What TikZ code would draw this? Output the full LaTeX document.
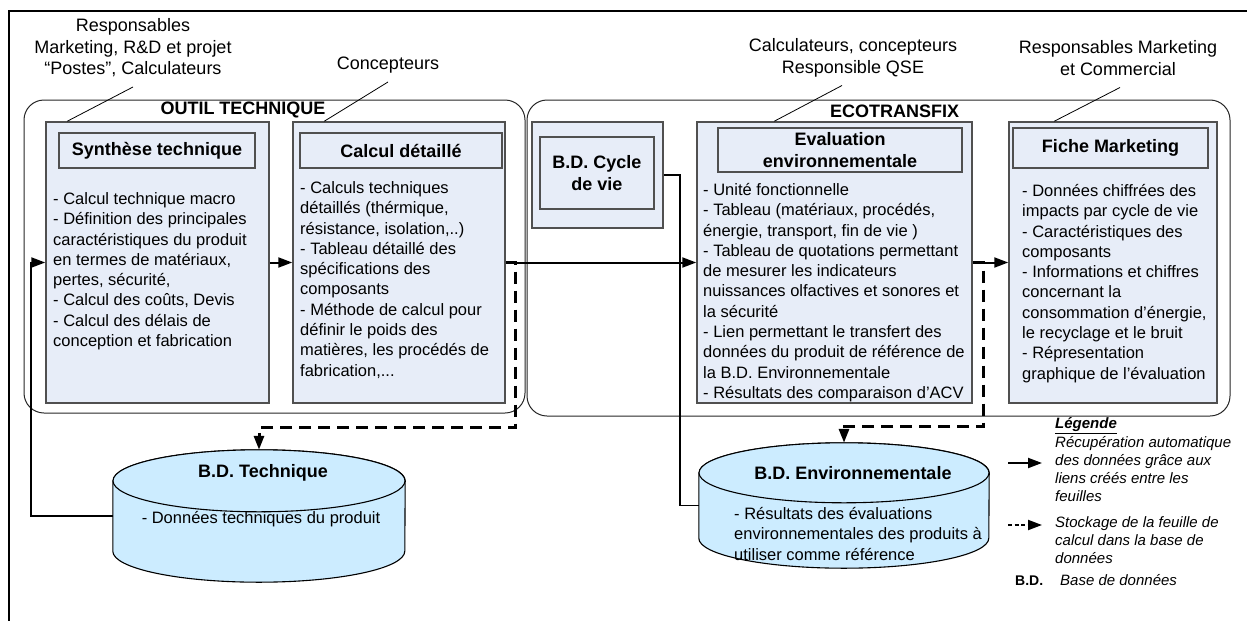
\documentclass[tikz,border=0pt]{standalone}
\usepackage{fontspec}
\setmainfont{Liberation Sans}
\usetikzlibrary{arrows.meta}

\definecolor{fondboite}{RGB}{231,237,248}
\definecolor{fondbase}{RGB}{204,236,255}
\definecolor{gristrait}{RGB}{80,80,80}

\begin{document}
\begin{tikzpicture}
  [x=1pt, y=-1pt,
   conteneur/.style={draw=black!85, rounded corners=20pt, line width=1pt, inner sep=0pt},
   boite/.style={draw=gristrait, fill=fondboite, line width=1.5pt, inner sep=0pt},
   titre/.style={draw=gristrait, fill=fondboite, line width=1.1pt, inner sep=0pt, align=center,
                 font=\fontsize{18}{22}\selectfont\bfseries},
   corps/.style={anchor=north west, inner sep=0pt, align=left, font=\fontsize{16.5}{20.3}\selectfont},
   acteur/.style={anchor=north, inner xsep=0pt, inner ysep=0pt, outer ysep=6pt, align=center,
                  font=\fontsize{18}{21.5}\selectfont},
   entete/.style={inner sep=0pt, font=\fontsize{18}{22}\selectfont\bfseries},
   cylindre/.style={draw=black, fill=fondbase, line width=1.1pt},
   legende/.style={anchor=north west, inner sep=0pt, align=left, font=\fontsize{15}{18}\selectfont\itshape},
   lien/.style={line width=2pt, -{Triangle[length=14pt, width=10pt]}},
   relie/.style={line width=1.6pt},
   stockage/.style={line width=3pt, dash pattern=on 12pt off 7pt, -{Triangle[length=14pt, width=10pt]}},
   renvoi/.style={line width=0.8pt}]

  \useasboundingbox (0,0) rectangle (1247,621);
  \draw[line width=2pt] (1247,11) -- (9,11) -- (9,621);

  % Outils
  \node[conteneur, minimum width=501pt, minimum height=313pt] (outil) at (274.5,256.5) {};
  \node[conteneur, minimum width=703pt, minimum height=316pt] (ecotr) at (878.5,258) {};
  \node[entete] (outilT) at (243,110) {OUTIL TECHNIQUE};
  \node[entete] (ecotrT) at (894.5,111) {ECOTRANSFIX};

  % Feuilles
  \node[boite, minimum width=223pt, minimum height=281pt] (synth) at (157.5,262.5) {};
  \node[boite, minimum width=212pt, minimum height=281pt] (calc) at (399,262.5) {};
  \node[boite, minimum width=131pt, minimum height=106pt] (cycle) at (597.5,175) {};
  \node[boite, minimum width=275pt, minimum height=281pt] (eval) at (834.5,262.5) {};
  \node[boite, minimum width=208pt, minimum height=281pt] (fiche) at (1113,262.5) {};

  \node[titre, minimum width=196pt, minimum height=35pt] (synthT) at (157,150.5) {Synthèse technique};
  \node[titre, minimum width=202pt, minimum height=35pt] (calcT) at (401,150.5) {Calcul détaillé};
  \node[titre, minimum width=114pt, minimum height=72pt] (cycleT) at (597,173) {B.D. Cycle\\de vie};
  \node[titre, minimum width=244pt, minimum height=44pt] (evalT) at (840,150) {Evaluation\\environnementale};
  \node[titre, minimum width=195pt, minimum height=40pt] (ficheT) at (1110.5,148) {Fiche Marketing};

  \node[corps] (synthX) at (53,190) {\strut - Calcul technique macro\\- Définition des principales\\caractéristiques du produit\\en termes de matériaux,\\pertes, sécurité,\\- Calcul des coûts, Devis\\- Calcul des délais de\\conception et fabrication};
  \node[corps] (calcX) at (300,179) {\strut - Calculs techniques\\détaillés (thérmique,\\résistance, isolation,..)\\- Tableau détaillé des\\spécifications des\\composants\\- Méthode de calcul pour\\définir le poids des\\matières, les procédés de\\fabrication,...};
  \node[corps] (evalX) at (703,181) {\strut - Unité fonctionnelle\\- Tableau (matériaux, procédés,\\énergie, transport, fin de vie )\\- Tableau de quotations permettant\\de mesurer les indicateurs\\nuissances olfactives et sonores et\\la sécurité\\- Lien permettant le transfert des\\données du produit de référence de\\la B.D. Environnementale\\- Résultats des comparaison d’ACV};
  \node[corps] (ficheX) at (1022,182) {\strut - Données chiffrées des\\impacts par cycle de vie\\- Caractéristiques des\\composants\\- Informations et chiffres\\concernant la\\consommation d’énergie,\\le recyclage et le bruit\\- Répresentation\\graphique de l’évaluation};

  % Bases de données
  \node[minimum width=292pt, minimum height=132pt, inner sep=0pt] (bdt) at (259,516) {};
  \node[minimum width=290pt, minimum height=125pt, inner sep=0pt] (bde) at (844,505.5) {};
  \foreach \bd/\rx/\ry in {bdt/146/31, bde/145/30} {
    \filldraw[cylindre] ([yshift=-\ry pt]\bd.north west) -- ([yshift=\ry pt]\bd.south west)
      arc[start angle=180, end angle=360, x radius=\rx pt, y radius=\ry pt]
      -- ([yshift=-\ry pt]\bd.north east)
      arc[start angle=0, end angle=180, x radius=\rx pt, y radius=\ry pt] -- cycle;
    \draw[cylindre] ([yshift=-\ry pt]\bd.north) ellipse[x radius=\rx pt, y radius=\ry pt];
  }
  \node[entete] (bdtT) at (263,473) {B.D. Technique};
  \node[inner sep=0pt, font=\fontsize{16.5}{20.3}\selectfont] (bdtX) at (261,519) {- Données techniques du produit};
  \node[entete] (bdeT) at (853,473) {B.D. Environnementale};
  \node[corps] (bdeX) at (734,505) {\strut - Résultats des évaluations\\environnementales des produits à\\utiliser comme référence};

  % Acteurs
  \node[acteur] (resp) at (133,10.5) {\strut Responsables\\Marketing, R\&D et projet\\“Postes”, Calculateurs\strut};
  \node[acteur] (conc) at (388,48.5) {\strut Concepteurs\strut};
  \node[acteur] (calq) at (853,30.5) {\strut Calculateurs, concepteurs\\Responsible QSE\strut};
  \node[acteur] (rmc) at (1118,32.5) {\strut Responsables Marketing\\et Commercial\strut};

  \foreach \from/\to/\sx/\dx in {resp/synth/0/22, conc/calc/0/32, calq/eval/-11/78, rmc/fiche/2/46}
    \draw[renvoi] ([xshift=\sx pt]\from.south) -- ([xshift=\dx pt]\to.north west);

  % Liens entre feuilles
  \foreach \from/\to in {synth/calc, calc/eval, eval/fiche}
    \draw[lien] (\from.east) -- (\to.west);
  \draw[lien] (bdt.west) -- ++(-82pt,0) |- (synth.west);
  \draw[relie] (cycle.east) -- ++(16pt,0) |- (bde.west);

  % Stockage
  \draw[stockage] (calc.east) -- ++(10pt,0) |- ([yshift=22pt]bdt.north) -- (bdt.north);
  \draw[stockage] (eval.east) -- ++(11pt,0) |- ([yshift=16pt]bde.north) -- (bde.north);

  % Légende
  \node[anchor=base west, inner sep=0pt, font=\fontsize{15}{18}\selectfont\bfseries\itshape] (legT) at (1055,428.5) {\underline{Légende}};
  \node[legende] (leg1) at (1055,435) {\strut Récupération automatique\\des données grâce aux\\liens créés entre les\\feuilles};
  \node[legende] (leg2) at (1055,515) {\strut Stockage de la feuille de\\calcul dans la base de\\données};
  \node[anchor=base west, inner sep=0pt, font=\fontsize{14}{16}\selectfont\bfseries] (legB) at (1015,585.4) {B.D.};
  \node[anchor=base west, inner sep=0pt, font=\fontsize{15}{18}\selectfont\itshape] (legBX) at (1060,585.4) {Base de données};
  \coordinate (la1) at (1008,463);
  \coordinate (la2) at (1042,463);
  \coordinate (lb1) at (1008,525);
  \coordinate (lb2) at (1042,525);
  \draw[lien] (la1) -- (la2);
  \draw[stockage, line width=2pt, dash pattern=on 4pt off 2.5pt] (lb1) -- (lb2);
\end{tikzpicture}
\end{document}
